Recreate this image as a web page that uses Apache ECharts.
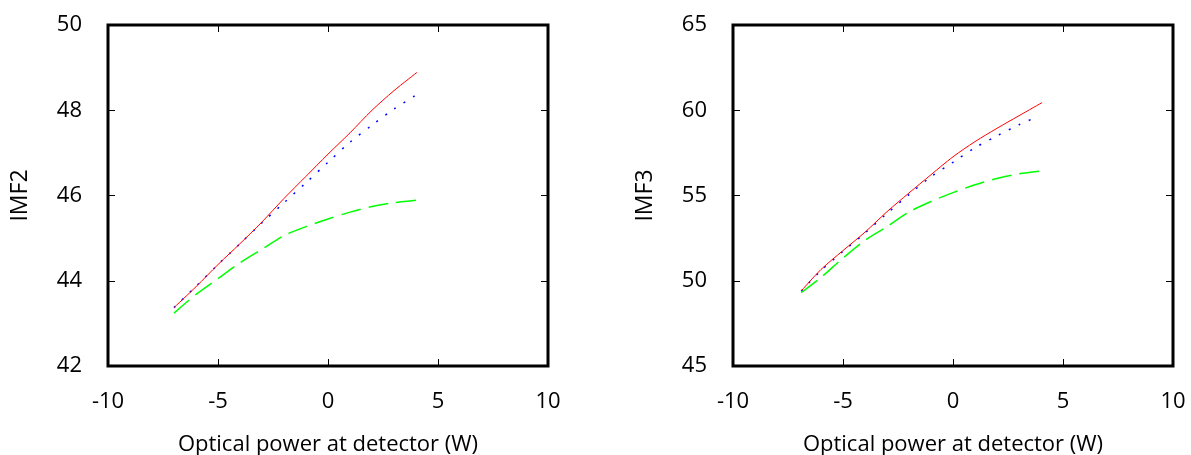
<!DOCTYPE html>
<html>
<head>
<meta charset="utf-8">
<script src="https://cdn.jsdelivr.net/npm/echarts@6/dist/echarts.min.js"></script>
<style>
  html, body { margin: 0; padding: 0; background: #fff; }
  #chart { width: 1191px; height: 455px; }
</style>
</head>
<body>
<div id="chart"></div>
<script>
// left panel (IMF2)
var xLeft = [-7, -6, -5, -4, -3, -2, -1, 0, 1, 2, 3, 4.05];
var red2 = [43.37, 43.86, 44.38, 44.87, 45.38, 45.93, 46.45, 46.97, 47.47, 48.0, 48.46, 48.89];
var blue2 = [43.37, 43.87, 44.38, 44.87, 45.36, 45.83, 46.3, 46.78, 47.25, 47.65, 48.03, 48.37];
var green2 = [43.24, 43.68, 44.05, 44.42, 44.74, 45.06, 45.27, 45.45, 45.61, 45.74, 45.83, 45.89];

// right panel (IMF3)
var xRight = [-6.9, -6, -5, -4, -3, -2, -1, 0, 1, 2, 3, 4.05];
var xRightBlue = [-6.9, -6, -5, -4, -3, -2, -1, 0, 1, 2, 3, 3.9];
var red3 = [49.4, 50.66, 51.77, 52.85, 54.05, 55.15, 56.22, 57.27, 58.16, 58.94, 59.68, 60.45];
var blue3 = [49.4, 50.6, 51.72, 52.8, 53.95, 55.05, 56.1, 56.95, 57.8, 58.5, 59.15, 59.65];
var green3 = [49.3, 50.19, 51.33, 52.37, 53.18, 54.03, 54.65, 55.17, 55.63, 56.0, 56.27, 56.44];

var xName = 'Optical power at detector (W)';
var font = 'Open Sans';

function pairs(xs, ys) {
  return xs.map(function (x, i) { return [x, ys[i]]; });
}

var tick = { show: true, inside: true, length: 7, lineStyle: { color: '#000', width: 1 } };
var noLine = { show: false, onZero: false };

function bottomX(idx) {
  return {
    type: 'value', gridIndex: idx, min: -10, max: 10, interval: 5,
    name: xName, nameLocation: 'middle', nameGap: 68,
    nameTextStyle: { color: '#000', fontSize: 22, fontFamily: font },
    axisLine: noLine, axisTick: tick,
    axisLabel: { color: '#000', fontSize: 22, fontFamily: font, margin: 25 },
    splitLine: { show: false }
  };
}
function topX(idx) {
  return {
    type: 'value', gridIndex: idx, position: 'top', min: -10, max: 10, interval: 5,
    axisLine: noLine, axisTick: tick,
    axisLabel: { show: false }, splitLine: { show: false }
  };
}
function leftY(idx, name, min, max, step) {
  return {
    type: 'value', gridIndex: idx, position: 'left', min: min, max: max, interval: step,
    name: name, nameLocation: 'middle', nameGap: 76,
    nameTextStyle: { color: '#000', fontSize: 23, fontFamily: font },
    axisLine: noLine, axisTick: tick,
    axisLabel: { color: '#000', fontSize: 22, fontFamily: font, margin: 26 },
    splitLine: { show: false }
  };
}
function rightY(idx, min, max, step) {
  return {
    type: 'value', gridIndex: idx, position: 'right', min: min, max: max, interval: step,
    axisLine: noLine, axisTick: tick,
    axisLabel: { show: false }, splitLine: { show: false }
  };
}
function line(xi, yi, data, color, type, width) {
  return {
    type: 'line', xAxisIndex: xi, yAxisIndex: yi, data: data,
    symbol: 'none', smooth: 0.3,
    lineStyle: { color: color, width: width, type: type }
  };
}

var chart = echarts.init(document.getElementById('chart'));
chart.setOption({
  animation: false,
  grid: [
    { left: 108, top: 25, width: 440, height: 341, outerBoundsMode: 'none', containLabel: false,
      show: true, borderColor: '#000', borderWidth: 3, backgroundColor: 'transparent' },
    { left: 733, top: 25, width: 440, height: 341, outerBoundsMode: 'none', containLabel: false,
      show: true, borderColor: '#000', borderWidth: 3, backgroundColor: 'transparent' }
  ],
  xAxis: [bottomX(0), topX(0), bottomX(1), topX(1)],
  yAxis: [leftY(0, 'IMF2', 42, 50, 2), rightY(0, 42, 50, 2), leftY(1, 'IMF3', 45, 65, 5), rightY(1, 45, 65, 5)],
  series: [
    line(0, 0, pairs(xLeft, green2), '#00ff00', [20, 8], 1.5),
    line(0, 0, pairs(xLeft, blue2), '#0000ff', [2, 9], 1.5),
    line(0, 0, pairs(xLeft, red2), '#ff0000', 'solid', 1),
    line(2, 2, pairs(xRight, green3), '#00ff00', [20, 8], 1.5),
    line(2, 2, pairs(xRightBlue, blue3), '#0000ff', [2, 9], 1.5),
    line(2, 2, pairs(xRight, red3), '#ff0000', 'solid', 1)
  ]
});
</script>
</body>
</html>
